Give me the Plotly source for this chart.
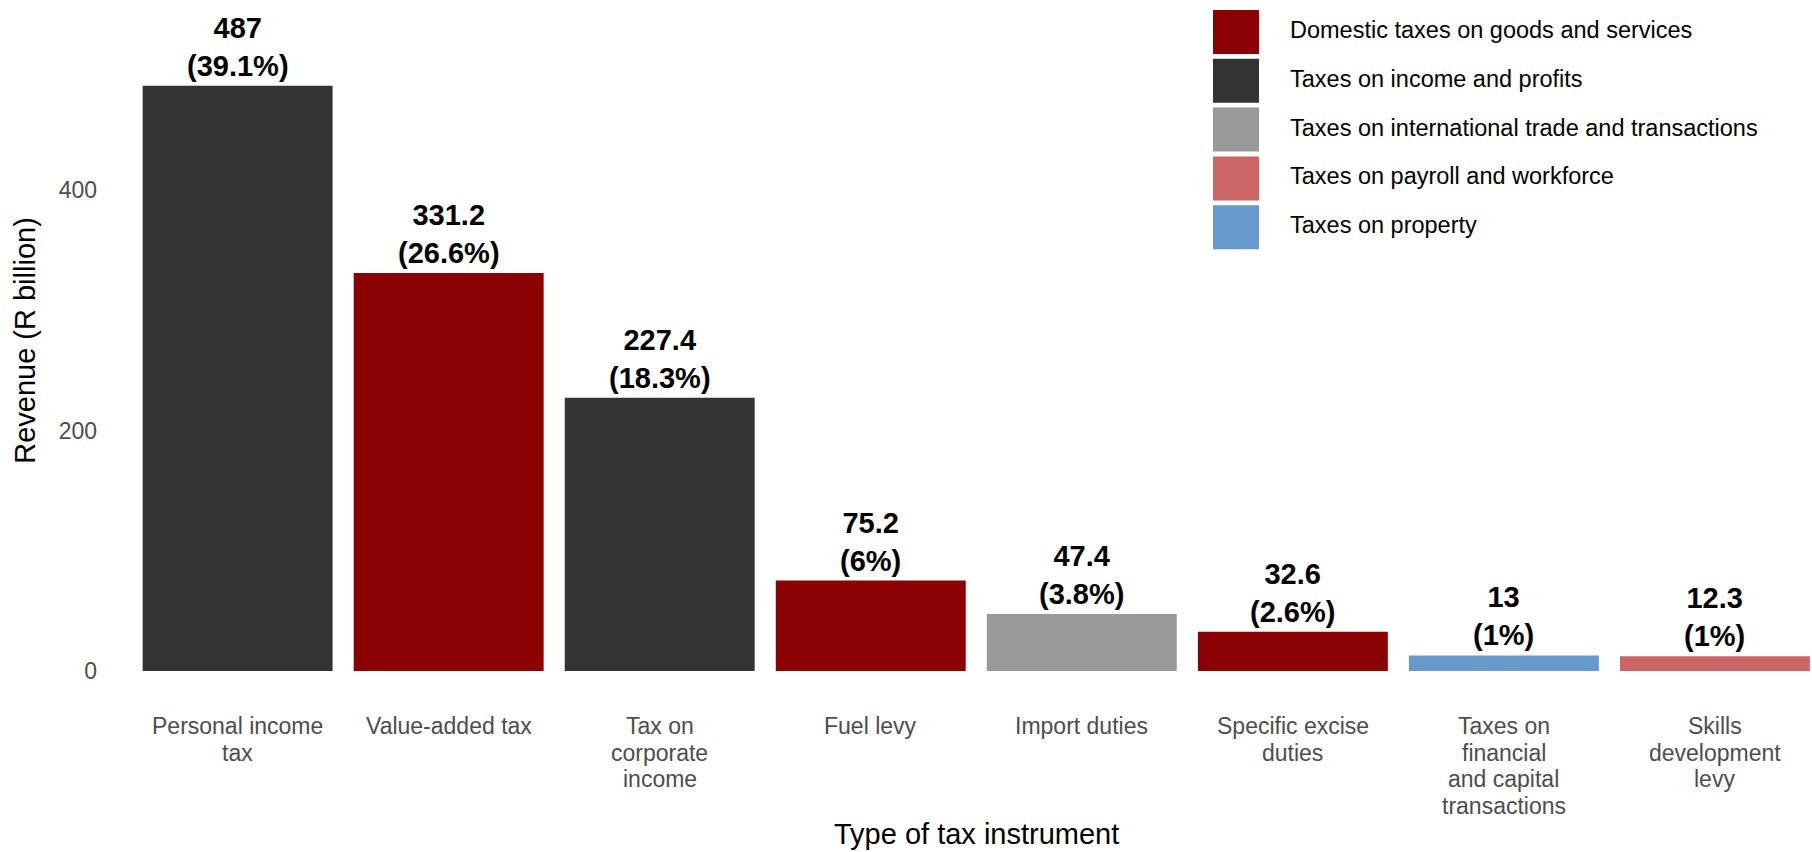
import plotly.graph_objects as go

# Revenue by tax instrument (R billion) and share of total (%)
instruments = [
    "Personal income<br>tax",
    "Value-added tax",
    "Tax on<br>corporate<br>income",
    "Fuel levy",
    "Import duties",
    "Specific excise<br>duties",
    "Taxes on<br>financial<br>and capital<br>transactions",
    "Skills<br>development<br>levy",
]
revenue = [487, 331.2, 227.4, 75.2, 47.4, 32.6, 13, 12.3]
share_pct = [39.1, 26.6, 18.3, 6, 3.8, 2.6, 1, 1]
tax_group = [
    "Taxes on income and profits",
    "Domestic taxes on goods and services",
    "Taxes on income and profits",
    "Domestic taxes on goods and services",
    "Taxes on international trade and transactions",
    "Domestic taxes on goods and services",
    "Taxes on property",
    "Taxes on payroll and workforce",
]
legend_groups = [
    "Domestic taxes on goods and services",
    "Taxes on income and profits",
    "Taxes on international trade and transactions",
    "Taxes on payroll and workforce",
    "Taxes on property",
]
y_ticks = [0, 200, 400]

group_colors = {
    "Domestic taxes on goods and services": "#8B0000",
    "Taxes on income and profits": "#333333",
    "Taxes on international trade and transactions": "#999999",
    "Taxes on payroll and workforce": "#CC6666",
    "Taxes on property": "#6699CC",
}

FONT = "Liberation Sans, Arial, sans-serif"
W, H = 1812, 852
M_L, M_R, M_T, M_B = 111, 0, 10, 181
plot_w = W - M_L - M_R
plot_h = H - M_T - M_B


def px_to_paper_y(py):
    return (H - M_B - py) / plot_h


def px_to_paper_x(px):
    return (px - M_L) / plot_w


fig = go.Figure(
    go.Bar(
        x=instruments,
        y=revenue,
        width=0.9,
        marker=dict(color=[group_colors[g] for g in tax_group], line=dict(width=0)),
        showlegend=False,
        hoverinfo="x+y",
    )
)

# value and share labels above each bar
for name, v, p in zip(instruments, revenue, share_pct):
    fig.add_annotation(
        x=name, y=v, xref="x", yref="y",
        text=f"<b>{v:g}<br>({p:g}%)</b>",
        showarrow=False, yanchor="bottom", yshift=2,
        font=dict(family=FONT, size=29, color="#000000"),
    )

# category labels under the bars, one line at a time for tighter leading
line_step = 26.7
for name in instruments:
    for j, line in enumerate(name.split("<br>")):
        fig.add_annotation(
            x=name, xref="x", y=px_to_paper_y(711), yref="paper",
            yanchor="top", yshift=-j * line_step,
            text=line, showarrow=False,
            font=dict(family=FONT, size=23, color="#4D4D4D"),
        )

# legend drawn as large colour keys
key_x0, key_x1 = 1213, 1259
key_top, key_h, key_step = 10, 44, 48.8
for i, g in enumerate(legend_groups):
    top = key_top + i * key_step
    fig.add_shape(
        type="rect", xref="paper", yref="paper",
        x0=px_to_paper_x(key_x0), x1=px_to_paper_x(key_x1),
        y0=px_to_paper_y(top), y1=px_to_paper_y(top + key_h),
        fillcolor=group_colors[g], line=dict(width=0), layer="above",
    )
    fig.add_annotation(
        xref="paper", yref="paper",
        x=px_to_paper_x(1288),
        y=px_to_paper_y(top + key_h / 2 - 2),
        text=g, showarrow=False, xanchor="left", yanchor="middle",
        font=dict(family=FONT, size=23.5, color="#000000"),
    )

# x-axis title centred on the panel
fig.add_annotation(
    x=3.5, xref="x", y=px_to_paper_y(834), yref="paper",
    text="Type of tax instrument", showarrow=False, yanchor="middle",
    font=dict(family=FONT, size=29, color="#000000"),
)

fig.update_layout(
    width=W, height=H,
    margin=dict(l=M_L, r=M_R, t=M_T, b=M_B, pad=0),
    paper_bgcolor="white", plot_bgcolor="white",
    barmode="overlay",
    font=dict(family=FONT),
    xaxis=dict(
        type="category", range=[-0.6, 7.46],
        showgrid=False, zeroline=False, showline=False, ticks="",
        showticklabels=False,
    ),
    yaxis=dict(
        range=[0, 550], tickvals=y_ticks,
        showgrid=False, zeroline=False, showline=False, ticks="",
        tickfont=dict(family=FONT, size=23, color="#4D4D4D"),
        ticklabelstandoff=13,
        title=dict(text="Revenue (R billion)", standoff=14,
                   font=dict(family=FONT, size=29, color="#000000")),
    ),
)

fig.write_html("out.html")
